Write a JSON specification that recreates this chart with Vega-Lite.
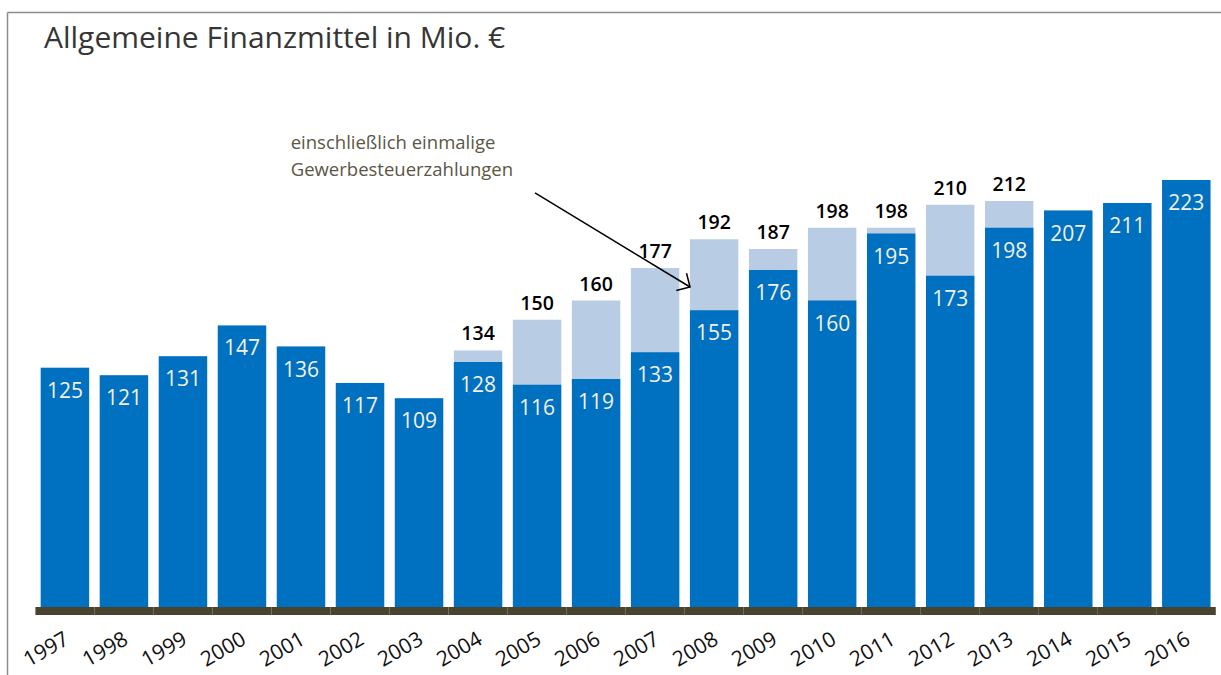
{
  "$schema": "https://vega.github.io/schema/vega-lite/v6.json",
  "width": 1214,
  "height": 663,
  "autosize": {"type": "none"},
  "padding": {"left": 7, "top": 12, "right": 0, "bottom": 0},
  "background": "white",
  "config": {
    "view": {"stroke": null},
    "font": "Open Sans",
    "axisY": {"labels": false, "ticks": false, "grid": false, "domain": true, "domainColor": "#8c8c8c", "domainWidth": 1.5}
  },
  "data": {
    "values": [
      {"year": "1997", "base": 125, "total": 125},
      {"year": "1998", "base": 121, "total": 121},
      {"year": "1999", "base": 131, "total": 131},
      {"year": "2000", "base": 147, "total": 147},
      {"year": "2001", "base": 136, "total": 136},
      {"year": "2002", "base": 117, "total": 117},
      {"year": "2003", "base": 109, "total": 109},
      {"year": "2004", "base": 128, "total": 134},
      {"year": "2005", "base": 116, "total": 150},
      {"year": "2006", "base": 119, "total": 160},
      {"year": "2007", "base": 133, "total": 177},
      {"year": "2008", "base": 155, "total": 192},
      {"year": "2009", "base": 176, "total": 187},
      {"year": "2010", "base": 160, "total": 198},
      {"year": "2011", "base": 195, "total": 198},
      {"year": "2012", "base": 173, "total": 210},
      {"year": "2013", "base": 198, "total": 212},
      {"year": "2014", "base": 207, "total": 207},
      {"year": "2015", "base": 211, "total": 211},
      {"year": "2016", "base": 223, "total": 223}
    ]
  },
  "layer": [
    {
      "layer": [
        {
          "mark": {"type": "bar", "color": "#B8CCE4"},
          "encoding": {
            "x": {
              "field": "year", "type": "ordinal", "title": null,
              "scale": {"paddingInner": 0.18, "paddingOuter": 0.375, "align": 0.762},
              "axis": {"orient": "bottom", "labelAngle": -30, "labelAlign": "right", "labelBaseline": "top", "labelFontSize": 21, "labelColor": "#111111", "labelOffset": -3, "ticks": false, "domain": false, "labelPadding": 0, "offset": -47, "grid": false}
            },
            "y": {"field": "total", "type": "quantitative", "title": null, "scale": {"domain": [-35.5, 310.7], "nice": false, "zero": false}},
            "y2": {"datum": 0}
          }
        },
        {
          "mark": {"type": "bar", "color": "#0070C0"},
          "encoding": {
            "x": {"field": "year", "type": "ordinal", "title": null},
            "y": {"field": "base", "type": "quantitative", "title": null},
            "y2": {"datum": 0}
          }
        },
        {
          "mark": {"type": "bar", "color": "#4A432D", "width": {"band": 1.22}},
          "encoding": {
            "x": {"field": "year", "type": "ordinal", "title": null},
            "y": {"datum": 0, "type": "quantitative", "title": null},
            "y2": {"datum": -4.2}
          }
        },
        {
          "mark": {"type": "text", "baseline": "middle", "align": "center", "dy": 24, "fontSize": 21, "color": "#F3F1E4"},
          "encoding": {
            "x": {"field": "year", "type": "ordinal", "title": null},
            "y": {"field": "base", "type": "quantitative", "title": null},
            "text": {"field": "base", "type": "quantitative"}
          }
        },
        {
          "transform": [{"filter": "datum.total > datum.base"}],
          "mark": {"type": "text", "baseline": "alphabetic", "align": "center", "dy": -10, "fontSize": 19.5, "fontWeight": 600, "color": "#000000"},
          "encoding": {
            "x": {"field": "year", "type": "ordinal", "title": null},
            "y": {"field": "total", "type": "quantitative", "title": null},
            "text": {"field": "total", "type": "quantitative"}
          }
        }
      ]
    },
    {
      "data": {"values": [{"label": "annotation"}]},
      "layer": [
        {
          "mark": {"type": "rule", "color": "#000000", "strokeWidth": 1.5},
          "encoding": {
            "x": {
              "datum": 2004.965, "type": "quantitative", "title": null,
              "scale": {"domain": [1996.018, 2016.588], "nice": false, "zero": false},
              "axis": {"orient": "top", "labels": false, "ticks": false, "grid": false, "domain": true, "domainColor": "#8c8c8c", "domainWidth": 1.5, "offset": 0, "title": null}
            },
            "x2": {"datum": 2007.591},
            "y": {"datum": 216.2, "type": "quantitative", "title": null},
            "y2": {"datum": 167.1}
          }
        },
        {
          "mark": {"type": "point", "shape": "M -1 -1 L 0 0 L -1 1", "filled": false, "stroke": "#000000", "strokeWidth": 1.5, "size": 400, "angle": 30.8, "opacity": 1},
          "encoding": {
            "x": {"datum": 2007.591, "type": "quantitative", "title": null},
            "y": {"datum": 167.1, "type": "quantitative", "title": null}
          }
        },
        {
          "mark": {"type": "text", "align": "left", "baseline": "alphabetic", "fontSize": 18.5, "lineHeight": 27, "color": "#5B5645", "text": ["einschließlich einmalige", "Gewerbesteuerzahlungen"]},
          "encoding": {
            "x": {"datum": 2000.825, "type": "quantitative", "title": null},
            "y": {"datum": 239.0, "type": "quantitative", "title": null}
          }
        },
        {
          "mark": {"type": "text", "align": "left", "baseline": "alphabetic", "fontSize": 30, "color": "#363636", "text": "Allgemeine Finanzmittel in Mio. €"},
          "encoding": {
            "x": {"datum": 1996.645, "type": "quantitative", "title": null},
            "y": {"datum": 291.9, "type": "quantitative", "title": null}
          }
        }
      ]
    }
  ],
  "resolve": {"scale": {"x": "independent"}}
}
